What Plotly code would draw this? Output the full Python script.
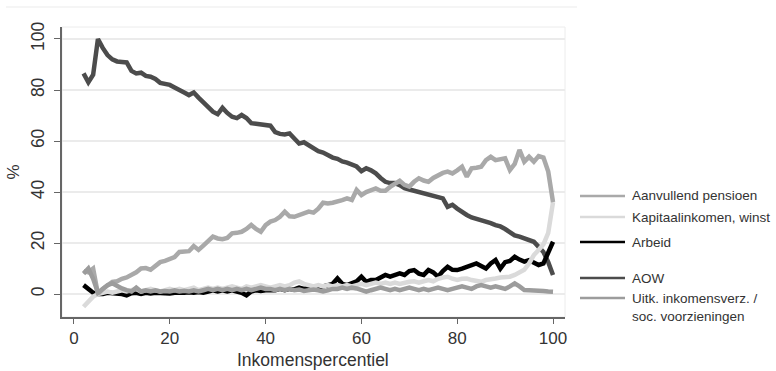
import plotly.graph_objects as go

percentiel = list(range(2, 101))

aow = [86.5, 83, 86, 100, 96.5, 93.7, 92, 91.2, 91, 90.8, 87.5, 86.5, 86.8, 85.5, 85.2, 84.3, 82.8, 82.3, 82,
       81, 80.2, 79, 78, 79, 77, 75, 73, 71.5, 70.5, 73, 71, 69.5, 69, 70.2, 69, 67, 66.8, 66.5, 66.5,
       66, 63.5, 62.8, 62.6, 63, 61, 59, 59.5, 58.4, 57.5, 56, 55.5, 54.5, 53.5, 53, 52, 51.5, 50.5, 50,
       48.2, 49.3, 48.5, 47.3, 45.5, 44, 43.5, 43.5, 42.7, 41.5, 41, 40.5, 40, 39.5, 38.8, 38.2, 37.8,
       37.5, 34.2, 35, 33.5, 32, 31, 30, 29.5, 29, 28.5, 27.8, 27, 26.5, 25.5, 24, 23, 22.5, 21.8, 21,
       20.5, 18.5, 16.5, 12.5, 7.5]

aanvullend = [9, 8.5, 10, 0, 2, 3.5, 4.8, 5, 6, 6.5, 7.5, 8.5, 10, 10.2, 9.5, 11, 12.5, 13, 13.6,
              14.5, 16.5, 16.5, 16.8, 18.8, 17.3, 19, 21, 22.5, 21.8, 21.5, 22, 23.8, 24, 24.4, 25.5,
              27.1, 25.5, 24.4, 27, 28.4, 29, 30.3, 32.3, 30.5, 30.3, 31, 31.5, 32.3, 31.9, 33.5, 35.8,
              35.5, 35.8, 36.2, 36.8, 37.5, 36.9, 40.8, 38.8, 40, 40.5, 41.4, 40.5, 40.5, 42, 43, 44.4,
              42.8, 42.1, 44, 45.4, 44.5, 44, 45.5, 46.7, 47.5, 48, 47.3, 48.5, 49.9, 46, 49.3, 49.5,
              49.9, 52.5, 53.8, 52.5, 53, 53.2, 48.6, 51, 56.5, 51.9, 53.8, 51.9, 54.1, 53.5, 48, 36]

kapitaal = [-5, -3, -1, 0, 0.5, 1, 0.5, 1, 1.5, 1, 1.5, 2, 1, 1.5, 2, 1.5, 1, 1.5, 2, 1.5, 2, 1.5, 2,
            2.5, 1.5, 2, 2.5, 2, 2.5, 2, 2.5, 3, 2.5, 2, 3, 2.5, 3, 3.5, 3, 2.5, 3, 3.5, 3, 3.5, 4.5, 5,
            4, 3.5, 3, 3.5, 3, 3.5, 3, 3.5, 3, 3.5, 3, 3.5, 4, 3.5, 4, 4.5, 4, 4.5, 4, 4.5, 4, 4.5, 4.8,
            5, 4.5, 5, 5.5, 5, 6, 6.5, 6.8, 6, 5.5, 6, 6.1, 5.5, 5, 4.8, 5.5, 6, 6.1, 6.5, 6.5, 6.8, 7.5,
            8.5, 9.5, 12, 15.3, 17.3, 19.5, 24, 36]

arbeid = [3.5, 2, 0.5, 0, 0, 0.5, 0.3, 0.5, 0, -0.5, 0.3, 0.5, 0, 0.5, 0.2, 0.5, 0.3, 0.5, 0.2, 0.5,
          0.3, 0.5, 0.7, 0.5, 0.8, 0.5, 1, 1.5, 1, 1.5, 1, 1.5, 1, 0.5, -0.5, 1, 1.5, 1.2, 1.5, 1.5,
          1.5, 2, 1.5, 2, 1.8, 2.5, 2, 2.5, 2.9, 2.5, 3, 3.5, 4, 6.1, 4, 3.5, 4.5, 5, 6.8, 4.8, 5.5,
          5.5, 6.5, 7.5, 6.8, 7.5, 8.1, 7.5, 9, 9.4, 8, 7.5, 9.4, 8.5, 6.8, 9, 10.7, 9.5, 9.4, 10,
          10.7, 11, 12, 11, 10, 12, 13.3, 10, 12.5, 13, 14.6, 13.5, 12.7, 13.3, 12.5, 11.4, 12, 15.9, 20.5]

uitkering = [8, 10, 6, 0.5, 2, 3.5, 4.2, 3, 2.2, 1.5, 1, 2.5, 1, 1.5, 1, 1.5, 1, 1.2, 1, 1.5, 1, 1.3,
             1, 1.5, 1, 1.5, 2, 1.5, 2, 1.5, 2, 1.5, 2, 1.5, 2, 1.5, 2, 2.5, 2, 2, 1.5, 2, 1.5, 2, 1.5,
             1.8, 1.2, 1.5, 1.8, 1.5, 1, 1.5, 2, 2, 2.5, 2, 2.5, 2.2, 1.5, 0.9, 1.5, 2, 2.5, 2, 1.5, 2,
             1.5, 2, 2.5, 2, 1.5, 2, 1.5, 2, 2.5, 2, 1.5, 2, 2.5, 3, 2.5, 2, 3, 3.5, 3, 2.5, 3, 2.5, 2,
             3, 4.2, 3, 1.6, 1.5, 1.5, 1.3, 1.2, 1, 0.9]

labels = ["Aanvullend pensioen", "Kapitaalinkomen, winst", "Arbeid", "AOW",
          "Uitk. inkomensverz. /<br>soc. voorzieningen"]
colors = ["#a9a9a9", "#dadada", "#000000", "#4c4c4c", "#9c9c9c"]
series = [aanvullend, kapitaal, arbeid, aow, uitkering]

x_ticks = [0, 20, 40, 60, 80, 100]
y_ticks = [0, 20, 40, 60, 80, 100]
x_title = "Inkomenspercentiel"

W, H = 776, 371
L, R, T, B = 62, 211, 27, 54
pw, ph = W - L - R, H - T - B

def px(x):
    return (x - L) / pw

def py(y):
    return (H - B - y) / ph

fig = go.Figure()
draw_order = [3, 2, 1, 0, 4]
for i in draw_order:
    fig.add_trace(go.Scatter(x=percentiel, y=series[i], mode="lines", name=labels[i],
                             line=dict(color=colors[i], width=4.5), showlegend=False))

shapes = []
annotations = []
# frame
shapes.append(dict(type="rect", xref="paper", yref="paper", x0=0, x1=1, y0=0, y1=1,
                   line=dict(color="#ececec", width=1), layer="below"))
shapes.append(dict(type="line", xref="paper", yref="paper", x0=px(6), x1=px(577), y0=py(7), y1=py(7),
                   line=dict(color="#ebebeb", width=1)))
# x-axis title
annotations.append(dict(xref="paper", yref="paper", x=px(313), y=py(360), text=x_title,
                        showarrow=False, xanchor="center", yanchor="middle",
                        font=dict(size=17.5, color="#333333")))
# custom legend
leg_y = [196, 217, 242, 278, 298]
for lab, col, yy, idx in zip(labels, colors, leg_y, range(5)):
    shapes.append(dict(type="line", xref="paper", yref="paper", x0=px(580), x1=px(625),
                       y0=py(yy), y1=py(yy), line=dict(color=col, width=2.5)))
    annotations.append(dict(xref="paper", yref="paper", x=px(630), y=py(yy), text=lab,
                            showarrow=False, xanchor="left", yanchor="top" if idx == 4 else "middle",
                            yshift=9 if idx == 4 else 0,
                            align="left", font=dict(size=13.5, color="#333333")))

fig.update_layout(
    width=W, height=H,
    margin=dict(l=L, r=R, t=T, b=B, autoexpand=False),
    paper_bgcolor="white", plot_bgcolor="white",
    font=dict(family="Liberation Sans, Arial, sans-serif", color="#333333"),
    shapes=shapes, annotations=annotations,
    showlegend=False,
)
fig.update_xaxes(range=[-2.5, 102.5], tickvals=x_ticks, showgrid=False, zeroline=False, automargin=False,
                 showline=True, linecolor="#666666", linewidth=1.5, ticks="outside", ticklen=5,
                 tickcolor="#666666", tickfont=dict(size=17, color="#333333"))
fig.update_yaxes(range=[-9.0, 104.7], tickvals=y_ticks, showgrid=True, gridcolor="#ebebeb", gridwidth=1.5,
                 zeroline=False, showline=True, linecolor="#666666", linewidth=1.5, ticks="outside",
                 automargin=False,
                 ticklen=6, tickcolor="#666666", tickangle=-90, tickfont=dict(size=17.5, color="#333333"),
                 ticklabelstandoff=3,
                 title=dict(text="%", font=dict(size=17, color="#333333"), standoff=4))

fig.write_html("out.html")
